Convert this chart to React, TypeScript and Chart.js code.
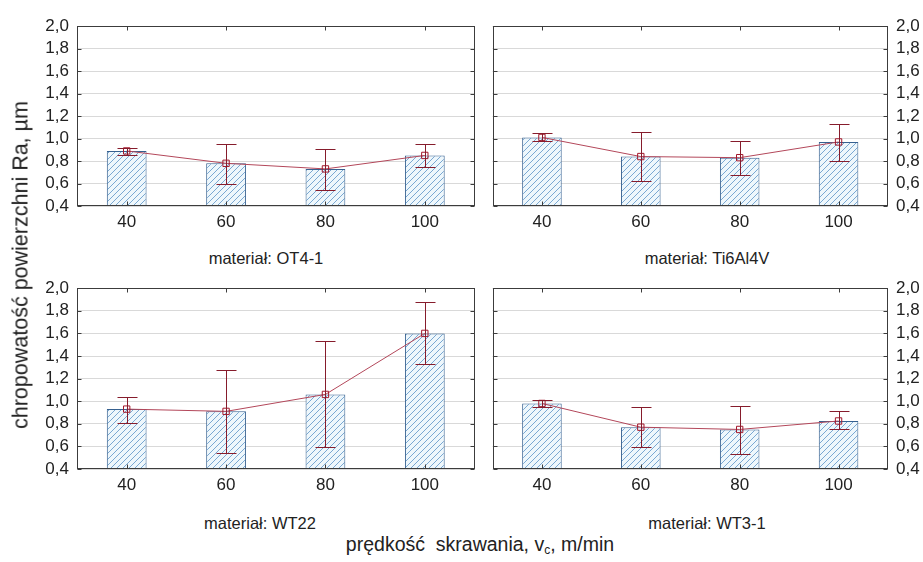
import React, { useEffect, useRef } from "react";
import { Chart, registerables } from "chart.js";

Chart.register(...registerables);

// ---------- data ----------
const speeds = ["40", "60", "80", "100"];
const yTickValues = [0.4, 0.6, 0.8, 1.0, 1.2, 1.4, 1.6, 1.8, 2.0];

const ot41Mean = [0.89, 0.78, 0.73, 0.85];
const ot41Low = [0.85, 0.6, 0.54, 0.75];
const ot41High = [0.92, 0.95, 0.91, 0.95];

const ti6Mean = [1.01, 0.84, 0.83, 0.97];
const ti6Low = [0.98, 0.62, 0.68, 0.8];
const ti6High = [1.05, 1.06, 0.98, 1.13];

const wt22Mean = [0.93, 0.91, 1.06, 1.6];
const wt22Low = [0.81, 0.545, 0.595, 1.33];
const wt22High = [1.04, 1.28, 1.53, 1.88];

const wt31Mean = [0.98, 0.77, 0.75, 0.825];
const wt31Low = [0.945, 0.595, 0.53, 0.755];
const wt31High = [1.01, 0.945, 0.96, 0.91];

const panelLabels = ["materiał: OT4-1", "materiał: Ti6Al4V", "materiał: WT22", "materiał: WT3-1"];
const yTitle = "chropowatość powierzchni Ra, µm";

const FONT = "'Liberation Sans', Arial, sans-serif";

function makePattern(shift: number): CanvasPattern | string {
  const c = document.createElement("canvas");
  const n = 6;
  c.width = n;
  c.height = n;
  const g = c.getContext("2d");
  if (!g) return "#eef6fb";
  g.fillStyle = "#eef7fc";
  g.fillRect(0, 0, n, n);
  g.fillStyle = "#7aa8d2";
  for (let i = 0; i < n; i++) {
    g.fillRect(i, n - 1 - i, 1, 1);
  }
  const pat = g.createPattern(c, "repeat");
  if (!pat) return "#eef6fb";
  try {
    const tx = ((((-shift - 3) % n) + n) % n);
    pat.setTransform(new DOMMatrix([1, 0, 0, 1, tx, 0]));
  } catch (e) {
    /* ignore */
  }
  return pat;
}

const errorBarPlugin = {
  id: "errorBars",
  afterDatasetsDraw(chart: any, _args: any, opts: any) {
    const { ctx, scales } = chart;
    const xs = scales.x;
    const ys = scales.y;
    const low: number[] = opts.low || [];
    const high: number[] = opts.high || [];
    ctx.save();
    ctx.strokeStyle = "#861c2c";
    ctx.lineWidth = 1;
    for (let i = 0; i < low.length; i++) {
      const x = Math.round(xs.getPixelForValue(i)) + 0.5;
      const y1 = Math.round(ys.getPixelForValue(low[i])) + 0.5;
      const y2 = Math.round(ys.getPixelForValue(high[i])) + 0.5;
      const cap = 10;
      ctx.beginPath();
      ctx.moveTo(x, y1);
      ctx.lineTo(x, y2);
      ctx.moveTo(x - cap, y1);
      ctx.lineTo(x + cap, y1);
      ctx.moveTo(x - cap, y2);
      ctx.lineTo(x + cap, y2);
      ctx.stroke();
    }
    ctx.restore();
  },
};

const boxPlugin = {
  id: "frameBox",
  afterDraw(chart: any) {
    const { ctx, chartArea, scales } = chart;
    const l = Math.round(chartArea.left) + 0.5;
    const r = Math.round(chartArea.right) - 0.5;
    const t = Math.round(chartArea.top) + 0.5;
    const b = Math.round(chartArea.bottom) - 0.5;
    ctx.save();
    ctx.strokeStyle = "#3c3c3c";
    ctx.lineWidth = 1;
    ctx.strokeRect(l, t, r - l, b - t);
    ctx.beginPath();
    const tl = 4;
    yTickValues.forEach((v) => {
      const y = Math.round(scales.y.getPixelForValue(v)) + 0.5;
      ctx.moveTo(l, y);
      ctx.lineTo(l + tl, y);
      ctx.moveTo(r, y);
      ctx.lineTo(r - tl, y);
    });
    speeds.forEach((_s, i) => {
      const x = Math.round(scales.x.getPixelForValue(i)) + 0.5;
      ctx.moveTo(x, t);
      ctx.lineTo(x, t + tl);
      ctx.moveTo(x, b);
      ctx.lineTo(x, b - tl);
    });
    ctx.stroke();
    ctx.restore();
  },
};

type PanelProps = {
  left: number;
  top: number;
  width: number;
  height: number;
  side: "left" | "right";
  mean: number[];
  low: number[];
  high: number[];
  xHeight: number;
};

function Panel(p: PanelProps) {
  const ref = useRef<HTMLCanvasElement | null>(null);
  useEffect(() => {
    if (!ref.current) return;
    const yWidth = p.side === "left" ? 47 : 35;
    const chart = new Chart(ref.current, {
      type: "bar",
      data: {
        labels: speeds,
        datasets: [
          {
            type: "line",
            data: p.mean,
            borderColor: "#b3475a",
            borderWidth: 1,
            pointStyle: "rect",
            pointRadius: 4.5,
            pointBorderColor: "#a3182c",
            pointBorderWidth: 1,
            pointBackgroundColor: "rgba(255,255,255,0)",
            tension: 0,
            order: 0,
          } as any,
          {
            type: "bar",
            data: p.mean,
            backgroundColor: makePattern(p.left + p.top) as any,
            borderColor: "#36608f",
            borderWidth: 1,
            barPercentage: 0.4,
            categoryPercentage: 1.0,
            order: 1,
          } as any,
        ],
      },
      options: {
        animation: false,
        responsive: false,
        maintainAspectRatio: false,
        layout: {
          padding: {
            top: 15,
            bottom: 0,
            left: p.side === "right" ? 5 : 0,
            right: p.side === "left" ? 5 : 0,
          },
        },
        plugins: {
          legend: { display: false },
          tooltip: { enabled: false },
          errorBars: { low: p.low, high: p.high },
        } as any,
        scales: {
          x: {
            type: "category",
            offset: true,
            grid: { display: false, drawTicks: false },
            border: { display: false },
            ticks: {
              color: "#222",
              font: { family: FONT, size: 17 },
              padding: 6,
              maxRotation: 0,
              autoSkip: false,
            },
            afterFit: (s: any) => {
              s.height = p.xHeight;
            },
          },
          y: {
            position: p.side,
            min: 0.4,
            max: 2.0,
            grid: { color: "#d9d9d9", lineWidth: 1, drawTicks: false },
            border: { display: false },
            ticks: {
              color: "#222",
              font: { family: FONT, size: 17 },
              padding: 8,
              autoSkip: false,
              callback: (v: any) => Number(v).toFixed(1).replace(".", ","),
            },
            afterBuildTicks: (s: any) => {
              s.ticks = yTickValues.map((v) => ({ value: v }));
            },
            afterFit: (s: any) => {
              s.width = yWidth;
            },
          },
        },
      },
      plugins: [errorBarPlugin, boxPlugin],
    } as any);
    return () => chart.destroy();
  }, []);
  return (
    <canvas
      ref={ref}
      width={p.width}
      height={p.height}
      style={{ position: "absolute", left: p.left, top: p.top, width: p.width, height: p.height }}
    />
  );
}

const labelStyle: React.CSSProperties = {
  position: "absolute",
  fontFamily: FONT,
  fontSize: 16.5,
  color: "#222",
  whiteSpace: "nowrap",
  transform: "translate(-50%, -50%)",
};

export default function App() {
  return (
    <div style={{ position: "absolute", left: 0, top: 0, width: 923, height: 562, background: "#fff", overflow: "hidden" }}>
      <Panel left={30} top={8} width={450} height={230} side="left" mean={ot41Mean} low={ot41Low} high={ot41High} xHeight={32} />
      <Panel left={487} top={8} width={436} height={230} side="right" mean={ti6Mean} low={ti6Low} high={ti6High} xHeight={32} />
      <Panel left={30} top={270} width={450} height={232} side="left" mean={wt22Mean} low={wt22Low} high={wt22High} xHeight={33} />
      <Panel left={487} top={270} width={436} height={232} side="right" mean={wt31Mean} low={wt31Low} high={wt31High} xHeight={33} />

      <div style={{ ...labelStyle, left: 266, top: 258 }}>{panelLabels[0]}</div>
      <div style={{ ...labelStyle, left: 707, top: 258 }}>{panelLabels[1]}</div>
      <div style={{ ...labelStyle, left: 260, top: 523 }}>{panelLabels[2]}</div>
      <div style={{ ...labelStyle, left: 707, top: 523 }}>{panelLabels[3]}</div>

      <div
        style={{
          ...labelStyle,
          fontSize: 21.5,
          left: 21,
          top: 265,
          transform: "translate(-50%, -50%) rotate(-90deg)",
        }}
      >
        {yTitle}
      </div>
      <div style={{ ...labelStyle, fontSize: 19.5, left: 480, top: 545 }}>
        prędkość&nbsp; skrawania, v<sub style={{ fontSize: 12, verticalAlign: "-3px" }}>c</sub>, m/min
      </div>
    </div>
  );
}
